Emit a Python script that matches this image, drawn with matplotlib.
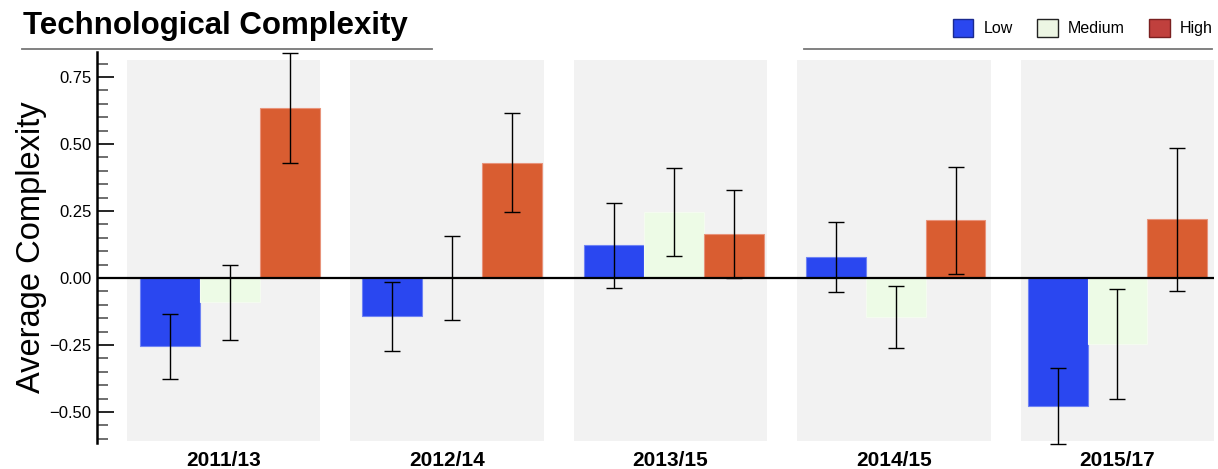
import numpy as np
import matplotlib.pyplot as plt
from matplotlib.patches import Patch
from matplotlib.lines import Line2D
from matplotlib.ticker import MultipleLocator

plt.rcParams['font.family'] = ['Liberation Sans', 'DejaVu Sans']

# data
periods = ['2011/13', '2012/14', '2013/15', '2014/15', '2015/17']
levels = ['Low', 'Medium', 'High']
low = [-0.255, -0.143, 0.122, 0.079, -0.478]
medium = [-0.091, 0.0, 0.246, -0.146, -0.247]
high = [0.634, 0.430, 0.164, 0.215, 0.218]
low_err = [0.122, 0.128, 0.158, 0.130, 0.142]
medium_err = [0.140, 0.157, 0.163, 0.115, 0.204]
high_err = [0.207, 0.184, 0.165, 0.200, 0.268]

bar_colors = ['#2a47f0', '#edfbe6', '#d95d31']
bar_edges = ['#6f83f4', '#f4fbf0', '#e8937a']
legend_colors = ['#2a47f0', '#edf6e4', '#c0403d']
legend_edges = ['#1a2a90', '#222222', '#7a2020']

fig = plt.figure(figsize=(12.18, 4.69), dpi=100)
ax = fig.add_axes([97/1218, 26/469, 1117/1218, 391/469])

x = np.arange(len(periods))
ax.set_xlim(-0.566, 4.432)
ax.set_ylim(-0.616, 0.843)

# grey band behind every period
ax.bar(x, 1.42, width=0.864, bottom=-0.607, color='#f2f2f2', zorder=0)

# bar groups sit on a slightly tighter scale than the bands
bx = 0.029 + x * 0.9928
w = 0.268
series = [low, medium, high]
errs = [low_err, medium_err, high_err]
for k in range(3):
    pos = bx + (k - 1) * w
    ax.bar(pos, series[k], width=w, color=bar_colors[k],
           edgecolor=bar_edges[k], linewidth=0.8, zorder=2)
    ax.errorbar(pos, series[k], yerr=errs[k], fmt='none', ecolor='black',
                elinewidth=1.0, capsize=5.5, capthick=1.0, zorder=4,
                clip_on=False)

ax.axhline(0, color='black', lw=1.6, zorder=3)

for s in ['top', 'right', 'bottom']:
    ax.spines[s].set_visible(False)
ax.spines['left'].set_linewidth(1.8)
ax.spines['left'].set_color('black')

ax.yaxis.set_major_locator(MultipleLocator(0.25))
ax.yaxis.set_minor_locator(MultipleLocator(0.05))
ax.yaxis.set_major_formatter('{x:.2f}')
ax.tick_params(axis='y', which='major', direction='in', length=12,
               width=1.2, labelsize=12, pad=4)
ax.tick_params(axis='y', which='minor', direction='in', length=8,
               width=1.2, color='#555555')
ax.set_xticks(x)
ax.set_xticklabels(periods, fontsize=15, fontweight='bold')
ax.tick_params(axis='x', length=0, pad=6)
ax.set_ylabel('Average Complexity', fontsize=23.5, labelpad=2)

fig.text(23/1218, 1 - 34/469, 'Technological Complexity', fontsize=22.5,
         fontweight='bold', ha='left', va='baseline')
fig.add_artist(Line2D([22/1218, 432/1218], [1 - 49/469] * 2,
                      color='#777777', lw=1.3))
fig.add_artist(Line2D([804/1218, 1212/1218], [1 - 49/469] * 2,
                      color='#777777', lw=1.3))

handles = [Patch(facecolor=legend_colors[k], edgecolor=legend_edges[k],
                 linewidth=1.0, label=levels[k]) for k in range(3)]
fig.legend(handles=handles, loc='center right', ncol=3, frameon=False,
           bbox_to_anchor=(1213/1218, 1 - 28/469), fontsize=11.5,
           handlelength=1.3, handleheight=1.38, handletextpad=0.65,
           columnspacing=1.5, borderpad=0, borderaxespad=0)

fig.savefig('out.png', dpi=100)
